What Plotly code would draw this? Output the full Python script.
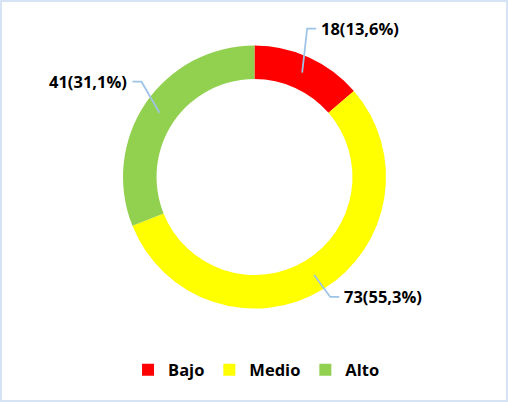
import math
import plotly.graph_objects as go

# ---- data ----
categories = ["Bajo", "Medio", "Alto"]
values = [18, 73, 41]
colors = ["#FF0000", "#FFFF00", "#92D050"]

# ---- layout (pixels) ----
W, H = 508, 402
CX, CY = 254.5, 177.0
R_OUT = 131.5
HOLE = 0.745
R_MID = R_OUT * (1 + HOLE) / 2
# leader-line bend offsets from the slice midpoint (px), and horizontal tail direction
label_offsets = [(5, -44), (16, 22), (-18, -31)]
tail_dir = [1, 1, -1]
TAIL = 9
FONT = "Open Sans"
FS = 16.5

total = sum(values)

def px(x):
    return x / W

def py(y):
    return 1 - y / H

fig = go.Figure(go.Pie(
    labels=categories, values=values, hole=HOLE, sort=False,
    direction="clockwise", rotation=0,
    marker=dict(colors=colors, line=dict(width=0)),
    textinfo="none", hoverinfo="label+value+percent",
    domain=dict(x=[px(CX - R_OUT), px(CX + R_OUT)], y=[py(CY + R_OUT), py(CY - R_OUT)]),
))

shapes = []
annotations = []
cum = 0
for i, v in enumerate(values):
    mid = (cum + v / 2) / total * 2 * math.pi
    cum += v
    sx = CX + R_MID * math.sin(mid)
    sy = CY - R_MID * math.cos(mid)
    bx = sx + label_offsets[i][0]
    by = sy + label_offsets[i][1]
    ex = bx + tail_dir[i] * TAIL
    shapes.append(dict(type="path", xref="paper", yref="paper",
                       path=f"M{px(sx)},{py(sy)} L{px(bx)},{py(by)} L{px(ex)},{py(by)}",
                       line=dict(color="#9DC3E6", width=1.75)))
    pct = f"{v / total * 100:.1f}".replace(".", ",")
    annotations.append(dict(
        x=px(ex + tail_dir[i] * 3), y=py(by), xref="paper", yref="paper",
        text=f"{v}({pct}%)", showarrow=False,
        xanchor="left" if tail_dir[i] > 0 else "right", yanchor="middle",
        font=dict(family=FONT, size=FS, color="#000000", weight=700)))

shapes.append(dict(type="rect", xref="paper", yref="paper", x0=px(1), y0=py(1), x1=px(W - 1), y1=py(H - 1),
                   line=dict(color="#D5E3F5", width=2)))

fig.update_layout(
    width=W, height=H, margin=dict(l=0, r=0, t=0, b=0),
    paper_bgcolor="white", plot_bgcolor="white",
    shapes=shapes, annotations=annotations,
    showlegend=True,
    legend=dict(orientation="h", x=0.505, xanchor="center", y=py(370), yanchor="middle",
                font=dict(family=FONT, size=FS, color="#000000", weight=700),
                itemwidth=30, traceorder="normal"),
)

fig.write_html("out.html", config={"displayModeBar": False},
               post_script="document.body.style.margin='0';document.body.style.overflow='hidden';")
